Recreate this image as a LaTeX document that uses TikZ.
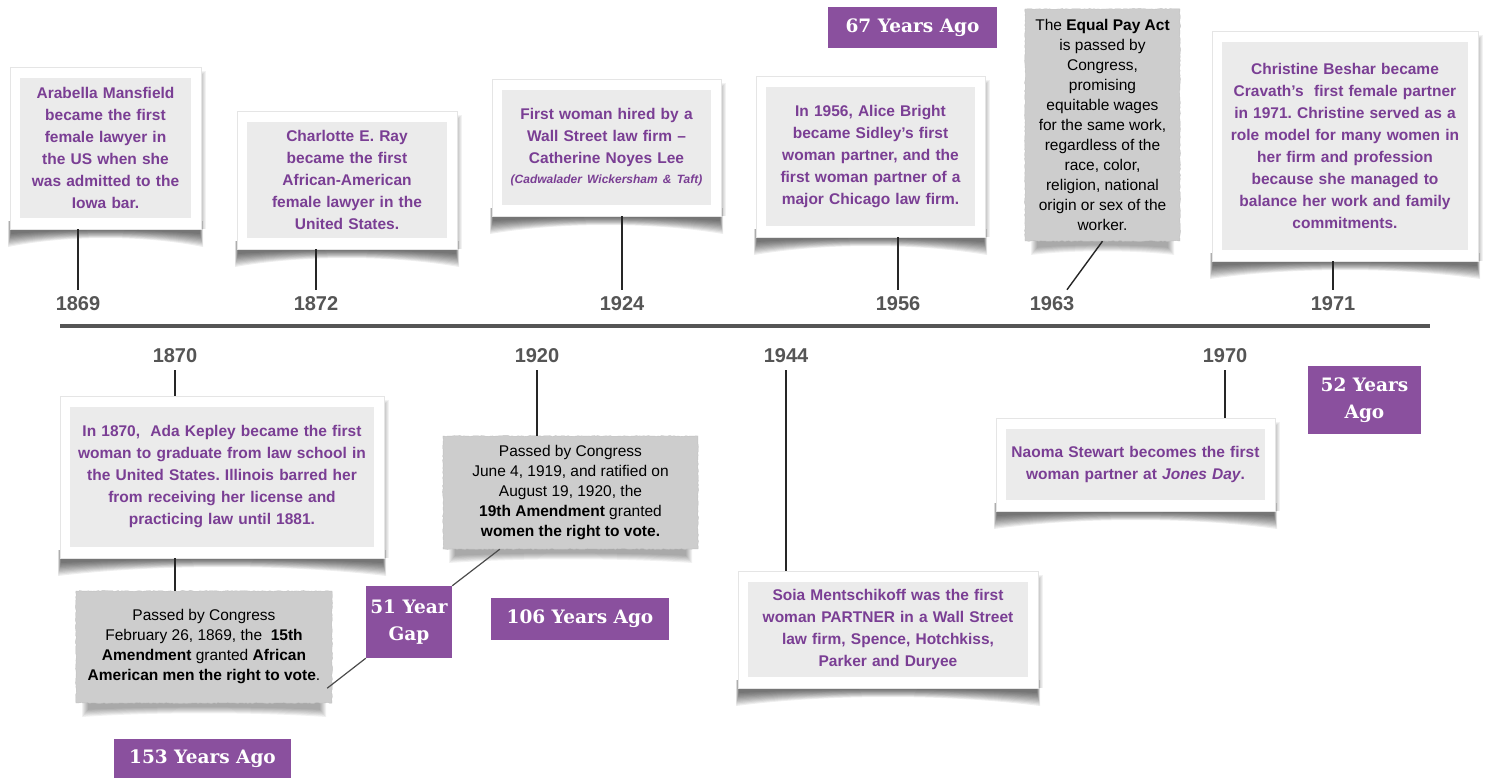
\documentclass[tikz,border=0pt]{standalone}
\usepackage{fontspec}
\setmainfont{Liberation Sans}
\newfontfamily\slab{DejaVu Serif}
\usetikzlibrary{decorations.pathmorphing}
\definecolor{purplebox}{RGB}{138,80,158}
\definecolor{purpletext}{RGB}{122,62,148}
\definecolor{cardgray}{RGB}{235,235,235}
\definecolor{notegray}{RGB}{205,205,205}
\definecolor{yeargray}{RGB}{85,85,85}

\newcommand\curl[5]{% x1,y1,x2,y2,opacity
  \foreach \k in {0,...,10}{
    \fill[black,opacity=#5] ({#1+\k*0.3-2},{#4-8}) -- ({#1+\k*0.3-2},{#4+18-\k*1.3})
      .. controls ({#1+(#3-#1)*0.3},{#4+6-\k*0.55}) and ({#1+(#3-#1)*0.7},{#4+6-\k*0.55}) ..
      ({#3-\k*0.3+2},{#4+18-\k*1.3}) -- ({#3-\k*0.3+2},{#4-8}) -- cycle;
  }
  \foreach \k in {0,...,4}{
    \fill[black,opacity=0.05] ({#3-3},{#2+4+\k}) rectangle ({#3+5-\k},{#4});
  }
}
\newcommand\card[6]{% name,x1,y1,x2,y2,text
  \curl{#2}{#3}{#4}{#5}{0.065}
  \pgfmathsetmacro\cw{#4-#2}\pgfmathsetmacro\ch{#5-#3}
  \pgfmathsetmacro\iw{#4-#2-20}\pgfmathsetmacro\ih{#5-#3-22}
  \node[frame, minimum width=\cw pt, minimum height=\ch pt] (#1) at ({(#2+#4)/2},{(#3+#5)/2}) {};
  \node[inner, text width=\iw pt, minimum height=\ih pt] (#1t) at (#1.center) {#6};
}
\newcommand\notebox[6]{% name,x1,y1,x2,y2,text
  \foreach \k in {0,...,6}{
    \fill[black,opacity=0.055] ({#2+6+\k},{#5-6}) -- ({#2+6+\k},{#5+14-\k*1.2})
      .. controls ({#2+(#4-#2)*0.3},{#5+9-\k*0.9}) and ({#2+(#4-#2)*0.7},{#5+9-\k*0.9}) ..
      ({#4-6-\k},{#5+14-\k*1.2}) -- ({#4-6-\k},{#5-6}) -- cycle;
  }
  \pgfmathsetmacro\cw{#4-#2}\pgfmathsetmacro\ch{#5-#3}
  \node[note, minimum width=\cw pt, minimum height=\ch pt] (#1) at ({(#2+#4)/2},{(#3+#5)/2}) {};
  \node[notetext] (#1t) at (#1.center) {#6};
}
\newcommand\tagbox[6]{% name,x1,y1,x2,y2,text
  \pgfmathsetmacro\cw{#4-#2}\pgfmathsetmacro\ch{#5-#3}
  \node[tag, minimum width=\cw pt, minimum height=\ch pt] (#1) at ({(#2+#4)/2},{(#3+#5)/2}) {#6};
}

\begin{document}
\frenchspacing
\begin{tikzpicture}[x=1pt,y=-1pt,
  frame/.style={fill=white, draw=black!10, line width=0.6pt, inner sep=0pt},
  inner/.style={fill=cardgray, inner sep=0pt, align=center, text=purpletext,
    font=\bfseries\fontsize{15.5}{22}\selectfont},
  note/.style={fill=notegray, inner sep=0pt, draw=notegray!93!black, line width=0.4pt,
    decorate, decoration={random steps, segment length=2pt, amplitude=0.4pt}},
  notetext/.style={inner sep=0pt, align=center, text=black,
    font=\fontsize{15.5}{20}\selectfont},
  year/.style={text=yeargray, font=\bfseries\fontsize{20}{24}\selectfont, inner sep=7pt},
  tag/.style={fill=purplebox, text=white, font=\slab\bfseries\fontsize{18.5}{27}\selectfont,
    align=center, inner sep=0pt},
  stem/.style={draw=black!85, line width=1.4pt},
  link/.style={draw=black!70, line width=1.2pt},
]
\fill[white] (0,0) rectangle (1486,779);
\useasboundingbox (0,0) rectangle (1486,779);

% timeline
\coordinate (L) at (60,326);
\coordinate (R) at (1430,326);
\draw[line width=3.5pt, yeargray] (L) -- (R);

% years
\node[year] (y1869) at (78,304) {1869};
\node[year] (y1872) at (316,304) {1872};
\node[year] (y1924) at (622,304) {1924};
\node[year] (y1956) at (898,304) {1956};
\node[year] (y1963) at (1052,304) {1963};
\node[year] (y1971) at (1333,304) {1971};
\node[year] (y1870) at (175,356) {1870};
\node[year] (y1920) at (537,356) {1920};
\node[year] (y1944) at (786,356) {1944};
\node[year] (y1970) at (1225,356) {1970};

% top cards
\card{c1869}{10}{67}{201}{229}{Arabella Mansfield\\became the first\\female lawyer in\\the US when she\\was admitted to the\\Iowa bar.}
\card{c1872}{237}{111}{457}{249}{Charlotte E. Ray\\became the first\\African-American\\female lawyer in the\\United States.}
\card{c1924}{492}{79}{721}{216}{First woman hired by a\\Wall Street law firm --\\Catherine Noyes Lee\\[-2pt]{\fontsize{12}{14}\selectfont\itshape (Cadwalader Wickersham \& Taft)}}
\card{c1956}{756}{76}{985}{237}{In 1956, Alice Bright\\became Sidley's first\\woman partner, and the\\first woman partner of a\\major Chicago law firm.}
\card{c1971}{1212}{31}{1478}{261}{Christine Beshar became\\Cravath’s\ \ first female partner\\in 1971. Christine served as a\\role model for many women in\\her firm and profession\\because she managed to\\balance her work and family\\commitments.}
\notebox{n63}{1025}{9}{1180}{241}{The \textbf{Equal Pay Act}\\is passed by\\Congress,\\promising\\equitable wages\\for the same work,\\regardless of the\\race, color,\\religion, national\\origin or sex of the\\worker.}

% bottom cards
\card{c1870}{60}{396}{384}{558}{In 1870,\ \ Ada Kepley became the first\\woman to graduate from law school in\\the United States. Illinois barred her\\from receiving her license and\\practicing law until 1881.}
\notebox{n15}{76}{591}{332}{703}{Passed by Congress\\February 26, 1869, the\ \ \textbf{15th}\\\textbf{Amendment} granted \textbf{African}\\\textbf{American men the right to vote}.}
\notebox{n19}{443}{436}{698}{549}{Passed by Congress\\June 4, 1919, and ratified on\\August 19, 1920, the\\\textbf{19th Amendment} granted\\\textbf{women the right to vote.}}
\card{c1944}{738}{571}{1038}{688}{Soia Mentschikoff was the first\\woman PARTNER in a Wall Street\\law firm, Spence, Hotchkiss,\\Parker and Duryee}
\card{c1970}{996}{418}{1275}{511}{Naoma Stewart becomes the first\\woman partner at \textit{Jones Day}.}

% tags
\tagbox{t67}{828}{7}{997}{48}{67 Years Ago}
\tagbox{t52}{1308}{366}{1421}{434}{52 Years\\Ago}
\tagbox{gap}{366}{586}{452}{658}{51 Year\\Gap}
\tagbox{t106}{491}{598}{669}{640}{106 Years Ago}
\tagbox{t153}{114}{739}{291}{778}{153 Years Ago}

% stems
\draw[stem] (c1869.south -| y1869.north) -- (y1869.north);
\draw[stem] (c1872.south -| y1872.north) -- (y1872.north);
\draw[stem] (c1924.south -| y1924.north) -- (y1924.north);
\draw[stem] (c1956.south -| y1956.north) -- (y1956.north);
\draw[stem] (c1971.south -| y1971.north) -- (y1971.north);
\draw[stem] (n63.south) -- ([xshift=15pt]y1963.north);
\draw[stem] (y1870.south) -- (c1870.north -| y1870.south);
\draw[stem] (c1870.south -| y1870.south) -- (n15.north -| y1870.south);
\draw[stem] (y1920.south) -- (n19.north -| y1920.south);
\draw[stem] (y1944.south) -- (c1944.north -| y1944.south);
\draw[stem] (y1970.south) -- (c1970.north -| y1970.south);

% gap links
\draw[link] ([shift={(-5pt,15pt)}]n15.south east) -- (gap.south west);
\draw[link] (gap.north east) -- ([xshift=57pt]n19.south west);
\end{tikzpicture}
\end{document}
